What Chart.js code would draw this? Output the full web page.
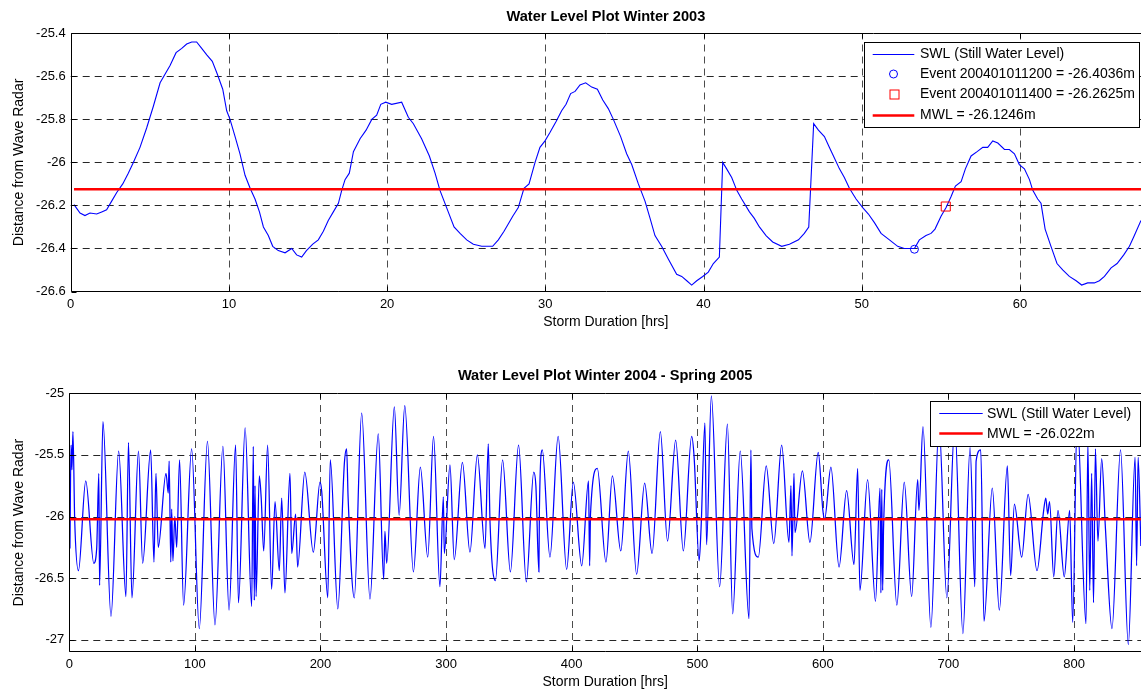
<!DOCTYPE html>
<html>
<head>
<meta charset="utf-8">
<script src="https://cdn.jsdelivr.net/npm/chart.js@4.4.1/dist/chart.umd.min.js"></script>
<style>
  html, body { margin: 0; padding: 0; background: #fff; }
  #wrap { position: relative; width: 1141px; height: 691px; overflow: hidden; }
  canvas { position: absolute; left: 0; }
  #c1 { top: 0; }
  #c2 { top: 345px; }
</style>
</head>
<body>
<div id="wrap">
  <canvas id="c1" width="1141" height="345"></canvas>
  <canvas id="c2" width="1141" height="346"></canvas>
</div>
<script>
// ---------------- DATA: Winter 2003 ----------------
const titleA = 'Water Level Plot Winter 2003';
const hoursA = [
  0.21,0.59,0.9,1.22,1.64,1.96,2.27,2.59,2.91,3.29,3.64,3.96,4.38,4.8,5.22,5.65,5.96,6.28,6.66,7.02,
  7.33,7.65,7.96,8.28,8.6,8.95,9.27,9.61,9.86,10.07,10.39,10.7,11.02,11.34,11.65,11.93,12.18,12.49,12.77,13.12,
  13.55,13.97,14.28,14.6,14.9,15.3,15.65,15.97,16.28,16.6,16.92,17.13,17.34,17.61,17.87,18.29,18.67,19.03,19.34,19.6,
  19.91,
  20.29,20.92,21.34,21.66,22.18,22.67,23.03,23.34,23.76,24.23,24.61,25.03,25.45,25.98,26.29,26.67,27.03,27.39,27.94,28.29,
  28.65,28.97,29.35,29.66,29.98,30.3,30.68,31.03,31.31,31.6,31.88,32.19,32.55,32.93,33.29,33.63,33.98,34.3,34.76,35.14,
  35.46,35.88,36.3,36.62,36.93,37.35,37.78,38.3,38.62,38.94,39.25,39.57,39.95,40.3,40.62,41.0,41.21,41.46,41.78,42.1,
  42.41,
  42.9,43.21,43.53,43.95,44.37,44.94,45.43,46.0,46.37,46.65,46.96,47.26,47.64,47.95,48.27,48.59,48.9,49.22,49.64,50.06,
  50.42,50.8,51.22,51.75,52.27,52.69,53.12,53.33,53.64,54.06,54.38,54.63,55.01,55.33,55.64,55.92,56.28,56.55,56.91,57.29,
  57.65,57.96,58.28,58.6,59.02,59.33,59.65,59.96,60.28,60.6,60.81,61.12,61.33,61.59,61.96,62.34,62.7,63.12,63.55,63.9,
  64.28,64.7,65.02,65.34,65.76,66.14,66.56,66.92,67.23,67.65
];
const levelA = [
  -26.196,-26.235,-26.247,-26.235,-26.24,-26.23,-26.22,-26.18,-26.14,-26.10,-26.05,-26.00,-25.93,-25.84,-25.74,-25.63,-25.59,-25.55,-25.49,-25.47,
  -25.45,-25.44,-25.44,-25.47,-25.50,-25.53,-25.59,-25.66,-25.76,-25.80,-25.88,-25.96,-26.06,-26.12,-26.17,-26.23,-26.30,-26.34,-26.39,-26.41,
  -26.42,-26.40,-26.43,-26.44,-26.41,-26.38,-26.36,-26.32,-26.27,-26.23,-26.19,-26.13,-26.08,-26.05,-25.95,-25.89,-25.85,-25.80,-25.78,-25.73,
  -25.72,
  -25.73,-25.72,-25.79,-25.82,-25.89,-25.97,-26.05,-26.13,-26.21,-26.30,-26.33,-26.36,-26.38,-26.39,-26.39,-26.39,-26.36,-26.32,-26.25,-26.21,
  -26.12,-26.10,-26.00,-25.93,-25.90,-25.86,-25.81,-25.76,-25.73,-25.68,-25.67,-25.64,-25.63,-25.65,-25.66,-25.71,-25.75,-25.80,-25.88,-25.96,
  -26.01,-26.10,-26.18,-26.26,-26.34,-26.39,-26.45,-26.52,-26.53,-26.55,-26.57,-26.55,-26.53,-26.51,-26.47,-26.44,-26.00,-26.03,-26.07,-26.13,
  -26.17,
  -26.23,-26.26,-26.30,-26.34,-26.37,-26.39,-26.38,-26.36,-26.33,-26.30,-25.82,-25.85,-25.88,-25.93,-25.98,-26.03,-26.07,-26.12,-26.17,-26.21,
  -26.24,-26.28,-26.33,-26.36,-26.39,-26.40,-26.40,-26.40,-26.36,-26.34,-26.33,-26.31,-26.25,-26.21,-26.16,-26.11,-26.09,-26.03,-25.97,-25.95,
  -25.93,-25.93,-25.90,-25.91,-25.94,-25.94,-25.96,-26.01,-26.03,-26.08,-26.13,-26.17,-26.19,-26.31,-26.39,-26.47,-26.50,-26.53,-26.55,-26.57,
  -26.56,-26.56,-26.55,-26.53,-26.49,-26.47,-26.43,-26.39,-26.34,-26.27
];
const mwlA = -26.1246;
const mwlRangeA = [0.21, 67.65];
const event1 = { x: 53.33, y: -26.4036 };
const event2 = { x: 55.31, y: -26.205 };
const xTicksA = [0, 10, 20, 30, 40, 50, 60];
const yTicksA = [-25.4, -25.6, -25.8, -26, -26.2, -26.4, -26.6];
const legendLabelsA = ['SWL (Still Water Level)', 'Event 200401011200 = -26.4036m', 'Event 200401011400 = -26.2625m', 'MWL = -26.1246m'];

// ---------------- DATA: Winter 2004 - Spring 2005 ----------------
const titleB = 'Water Level Plot Winter 2004 - Spring 2005';
const hoursB = [
  0.5,1.4,2.1,2.9,4.3,7.3,13.1,19.5,21.8,23.5,24.1,26.8,33.2,39.3,45.1,47.1,49.9,55.1,58.4,64.8,
  67.4,69.0,70.8,77.0,78.8,79.5,80.8,81.5,82.5,84.0,85.5,87.8,91.0,97.4,103.5,110.0,116.0,122.3,127.2,132.4,
  134.7,140.0,145.2,146.5,147.3,147.9,148.7,151.3,152.8,154.8,157.9,161.1,163.8,167.2,169.1,171.7,175.7,177.1,180.2,181.8,
  187.5,194.3,199.6,201.0,205.8,207.8,213.8,219.0,220.8,222.0,226.9,232.8,239.4,246.0,250.3,251.3,252.7,258.8,262.6,267.1,
  274.0,279.5,285.4,290.0,295.1,297.8,298.6,303.1,306.5,313.0,319.0,324.9,331.0,333.6,335.0,339.3,345.0,351.2,357.7,363.9,
  369.8,371.5,373.9,374.3,376.6,382.7,389.2,396.0,401.3,408.0,413.4,414.3,415.0,420.4,427.3,432.4,439.1,445.1,451.7,458.1,
  464.0,470.6,476.3,482.8,488.9,495.5,497.5,501.5,503.0,506.1,507.4,511.2,517.8,524.0,528.2,534.2,541.2,542.7,543.5,548.6,
  554.9,560.9,567.2,573.0,574.6,575.4,577.0,577.8,583.7,589.7,596.3,600.0,601.4,606.4,612.9,618.9,624.8,627.7,629.5,635.6,
  641.9,645.5,646.2,646.9,647.6,648.3,652.5,658.9,664.8,670.7,675.5,676.5,679.7,686.0,692.5,698.7,705.0,711.5,717.2,721.0,
  722.0,725.7,728.3,734.9,740.5,746.9,749.5,752.5,758.3,763.4,770.5,775.8,777.5,779.0,780.5,783.8,787.2,792.2,796.5,798.9,
  802.5,809.5,811.0,812.5,814.0,815.5,817.0,819.0,822.0,825.0,830.2,837.0,843.2,848.6,849.8,851.0,853.2
];
const levelB = [
  -26.26,-25.42,-25.62,-25.31,-26.03,-26.44,-25.71,-26.38,-26.26,-25.65,-26.56,-25.23,-26.81,-25.47,-26.65,-25.40,-26.66,-25.47,-26.38,-25.46,
  -26.37,-25.65,-26.25,-25.65,-25.81,-25.55,-26.37,-25.94,-26.36,-26.00,-26.25,-25.54,-26.72,-25.45,-26.91,-25.39,-26.88,-25.43,-26.76,-25.42,
  -26.70,-25.28,-26.73,-25.43,-26.68,-25.75,-26.65,-25.67,-25.85,-26.28,-25.42,-26.59,-25.88,-26.44,-25.85,-26.62,-25.65,-26.30,-25.98,-26.41,
  -25.64,-26.29,-25.72,-25.80,-26.66,-25.54,-26.75,-25.57,-25.45,-25.85,-26.66,-25.16,-26.67,-25.33,-26.51,-26.12,-26.38,-25.11,-25.99,-25.10,
  -26.45,-25.60,-26.33,-25.35,-26.57,-25.84,-26.30,-25.58,-26.35,-25.56,-26.29,-25.50,-26.26,-25.41,-26.05,-26.52,-25.54,-26.45,-25.42,-26.53,
  -25.64,-25.75,-26.45,-25.95,-25.46,-26.33,-25.35,-26.43,-25.72,-26.40,-25.71,-26.40,-25.98,-25.61,-26.37,-25.67,-26.28,-25.47,-26.47,-25.73,
  -26.30,-25.31,-26.20,-25.38,-26.28,-25.35,-25.52,-26.36,-26.10,-25.24,-26.23,-25.02,-26.57,-25.25,-26.79,-25.47,-26.83,-25.46,-26.10,-26.33,
  -25.59,-26.22,-25.42,-26.21,-25.75,-26.32,-25.65,-26.13,-25.63,-26.21,-25.48,-25.95,-26.02,-25.60,-26.41,-25.79,-26.39,-25.61,-26.60,-25.70,
  -26.69,-25.77,-26.62,-25.78,-26.60,-26.10,-25.54,-26.72,-25.72,-26.65,-25.70,-25.95,-25.27,-26.90,-25.25,-26.66,-25.25,-26.95,-25.44,-26.57,
  -25.55,-25.46,-26.85,-25.77,-26.76,-25.59,-26.48,-25.90,-26.33,-25.82,-26.44,-25.95,-25.85,-25.98,-25.88,-26.49,-25.95,-26.49,-25.95,-26.86,
  -25.20,-26.87,-25.40,-26.60,-25.65,-26.70,-25.45,-26.20,-25.53,-26.10,-26.91,-25.46,-27.04,-25.52,-26.40,-25.52,-26.24
];
const mwlB = -26.022;
const mwlRangeB = [0.5, 853.2];
const xTicksB = [0, 100, 200, 300, 400, 500, 600, 700, 800];
const yTicksB = [-25, -25.5, -26, -26.5, -27];
const legendLabelsB = ['SWL (Still Water Level)', 'MWL = -26.022m'];

const xLabel = 'Storm Duration [hrs]';
const yLabel = 'Distance from Wave Radar';

// ---------------- RENDERING ----------------
const FONT = "'Liberation Sans', Arial, Helvetica, sans-serif";
Chart.defaults.font.family = FONT;
Chart.defaults.color = '#000';

const BLUE = '#0000ff';
const RED = '#ff0000';

function pairs(xs, ys) { return xs.map((x, i) => ({ x: x, y: ys[i] })); }
function fmt(v) { return String(Math.round(v * 100) / 100); }

const matlabPlugin = {
  id: 'matlab',
  beforeDatasetsDraw(chart, args, opts) {
    const { ctx, chartArea: a } = chart;
    const xs = chart.scales.x, ys = chart.scales.y;
    ctx.save();
    ctx.lineWidth = 1;
    ctx.setLineDash([7, 5]);
    ctx.strokeStyle = 'rgba(0,0,0,0.7)';
    xs.ticks.forEach(t => {
      const px = Math.round(xs.getPixelForValue(t.value)) + 0.5;
      if (px <= a.left + 2 || px >= a.right - 2) return;
      ctx.beginPath(); ctx.moveTo(px, a.bottom); ctx.lineTo(px, a.top); ctx.stroke();
    });
    ctx.strokeStyle = 'rgba(0,0,0,0.85)';
    ys.ticks.forEach(t => {
      const py = Math.round(ys.getPixelForValue(t.value)) + 0.5;
      if (py <= a.top + 2 || py >= a.bottom - 2) return;
      ctx.beginPath(); ctx.moveTo(a.left, py); ctx.lineTo(a.right, py); ctx.stroke();
    });
    ctx.restore();
  },
  afterDatasetsDraw(chart, args, opts) {
    const { ctx, chartArea: a } = chart;
    ctx.save();
    ctx.strokeStyle = '#000';
    ctx.lineWidth = 1;
    ctx.setLineDash([]);
    const L = Math.round(a.left) + 0.5, T = Math.round(a.top) + 0.5, B = Math.round(a.bottom) - 0.5;
    ctx.beginPath();
    ctx.moveTo(a.right, T); ctx.lineTo(L, T); ctx.lineTo(L, B); ctx.lineTo(a.right, B);
    ctx.stroke();
    const xs = chart.scales.x, ys = chart.scales.y;
    ctx.beginPath();
    xs.ticks.forEach(t => {
      const px = Math.round(xs.getPixelForValue(t.value)) + 0.5;
      ctx.moveTo(px, B); ctx.lineTo(px, B - 5);
      ctx.moveTo(px, T); ctx.lineTo(px, T + 5);
    });
    ys.ticks.forEach(t => {
      const py = Math.round(ys.getPixelForValue(t.value)) + 0.5;
      ctx.moveTo(L, py); ctx.lineTo(L + 5, py);
    });
    ctx.stroke();

    const lg = opts.legend;
    if (lg) {
      ctx.fillStyle = '#fff';
      ctx.fillRect(lg.left, lg.top, lg.right - lg.left, lg.bottom - lg.top);
      ctx.strokeStyle = '#000';
      ctx.lineWidth = 1;
      ctx.strokeRect(Math.round(lg.left) + 0.5, Math.round(lg.top) + 0.5, Math.round(lg.right - lg.left), Math.round(lg.bottom - lg.top));
      ctx.font = '14px ' + FONT;
      ctx.textBaseline = 'middle';
      ctx.textAlign = 'left';
      lg.items.forEach((it, i) => {
        const y = lg.rows[i];
        if (it.kind === 'line') {
          ctx.strokeStyle = it.color; ctx.lineWidth = it.width;
          ctx.beginPath(); ctx.moveTo(lg.lineX0, Math.round(y) + 0.5); ctx.lineTo(lg.lineX1, Math.round(y) + 0.5); ctx.stroke();
        } else if (it.kind === 'circle') {
          ctx.strokeStyle = it.color; ctx.lineWidth = 1;
          ctx.beginPath(); ctx.arc((lg.lineX0 + lg.lineX1) / 2, y, 4, 0, Math.PI * 2); ctx.stroke();
        } else if (it.kind === 'rect') {
          ctx.strokeStyle = it.color; ctx.lineWidth = 1;
          const cx = Math.round((lg.lineX0 + lg.lineX1) / 2) + 0.5, cy = Math.round(y) + 0.5;
          ctx.strokeRect(cx - 4.5, cy - 4.5, 9, 9);
        }
        ctx.fillStyle = '#000';
        ctx.fillText(it.label, lg.textX, y + 0.5);
      });
    }
    ctx.restore();
  }
};

function zeroPad(s) { s.paddingLeft = 0; s.paddingRight = 0; s.paddingTop = 0; s.paddingBottom = 0; }

function makeChart(canvasId, cfg) {
  const ctx = document.getElementById(canvasId);
  return new Chart(ctx, {
    type: 'line',
    data: { datasets: cfg.datasets },
    options: {
      responsive: false,
      animation: false,
      devicePixelRatio: 1,
      layout: { autoPadding: false, padding: { left: 0, right: 0, top: 0, bottom: 0 } },
      plugins: {
        legend: { display: false },
        tooltip: { enabled: false },
        title: {
          display: true, text: cfg.title, color: '#000', fullSize: false,
          font: { size: 14.6, weight: 'bold', family: FONT },
          padding: { top: cfg.titlePadTop, bottom: cfg.titlePadBottom }
        },
        matlab: { legend: cfg.legend }
      },
      scales: {
        x: {
          type: 'linear', min: cfg.xMin, max: cfg.xMax,
          afterBuildTicks: s => { s.ticks = cfg.xTicks.map(v => ({ value: v })); },
          afterFit: s => { s.height = cfg.xAxisHeight; zeroPad(s); },
          grid: { display: false, drawTicks: false },
          border: { display: false },
          ticks: { color: '#000', font: { size: 13 }, padding: cfg.xTickPad, maxRotation: 0, autoSkip: false, callback: v => fmt(v) },
          title: { display: true, text: xLabel, color: '#000', font: { size: 14 }, padding: { top: 0, bottom: cfg.xTitlePadBottom } }
        },
        y: {
          type: 'linear', min: cfg.yMin, max: cfg.yMax,
          afterBuildTicks: s => { s.ticks = cfg.yTicks.map(v => ({ value: v })); },
          afterFit: s => { s.width = cfg.yAxisWidth; zeroPad(s); },
          grid: { display: false, drawTicks: false },
          border: { display: false },
          ticks: { color: '#000', font: { size: 13 }, padding: 5, autoSkip: false, callback: v => fmt(v) },
          title: { display: true, text: yLabel, color: '#000', font: { size: 14 }, padding: { top: 11, bottom: 0 } }
        }
      }
    },
    plugins: [matlabPlugin]
  });
}

makeChart('c1', {
  title: titleA,
  titlePadTop: 8.2, titlePadBottom: 7.6,
  xMin: 0, xMax: 67.65, yMin: -26.6, yMax: -25.4,
  xTicks: xTicksA, yTicks: yTicksA,
  xAxisHeight: 53.5, xTickPad: 5, xTitlePadBottom: 14.6, yAxisWidth: 70.7,
  datasets: [
    { label: legendLabelsA[3], data: [{ x: mwlRangeA[0], y: mwlA }, { x: mwlRangeA[1], y: mwlA }], borderColor: RED, borderWidth: 2.5, pointRadius: 0, order: 0 },
    { label: legendLabelsA[1], data: [event1], showLine: false, pointStyle: 'circle', pointRadius: 4, borderColor: BLUE, backgroundColor: 'rgba(0,0,0,0)', borderWidth: 1, order: 1 },
    { label: legendLabelsA[2], data: [event2], showLine: false, pointStyle: 'rect', pointRadius: 6.4, borderColor: RED, backgroundColor: 'rgba(0,0,0,0)', borderWidth: 1, order: 1 },
    { label: legendLabelsA[0], data: pairs(hoursA, levelA), borderColor: BLUE, borderWidth: 1.1, pointRadius: 0, tension: 0, order: 2 }
  ],
  legend: {
    left: 863.7, top: 41.7, right: 1139, bottom: 127,
    lineX0: 872.7, lineX1: 914.3, textX: 920,
    rows: [54, 74, 94, 115],
    items: [
      { kind: 'line', color: BLUE, width: 1, label: legendLabelsA[0] },
      { kind: 'circle', color: BLUE, label: legendLabelsA[1] },
      { kind: 'rect', color: RED, label: legendLabelsA[2] },
      { kind: 'line', color: RED, width: 2.5, label: legendLabelsA[3] }
    ]
  }
});

makeChart('c2', {
  title: titleB,
  titlePadTop: 21.9, titlePadBottom: 8.9,
  xMin: 0, xMax: 853.3, yMin: -27.1, yMax: -25,
  xTicks: xTicksB, yTicks: yTicksB,
  xAxisHeight: 39, xTickPad: 4.2, xTitlePadBottom: 0.6, yAxisWidth: 69.3,
  datasets: [
    { label: legendLabelsB[1], data: [{ x: mwlRangeB[0], y: mwlB }, { x: mwlRangeB[1], y: mwlB }], borderColor: RED, borderWidth: 2.5, pointRadius: 0, order: 0 },
    { label: legendLabelsB[0], data: pairs(hoursB, levelB), borderColor: BLUE, borderWidth: 1.25, pointRadius: 0, cubicInterpolationMode: 'monotone', order: 2 }
  ],
  legend: {
    left: 930.3, top: 55.7, right: 1140, bottom: 101,
    lineX0: 939.3, lineX1: 982.7, textX: 987,
    rows: [68.3, 88.3],
    items: [
      { kind: 'line', color: BLUE, width: 1, label: legendLabelsB[0] },
      { kind: 'line', color: RED, width: 2.5, label: legendLabelsB[1] }
    ]
  }
});
</script>
</body>
</html>
